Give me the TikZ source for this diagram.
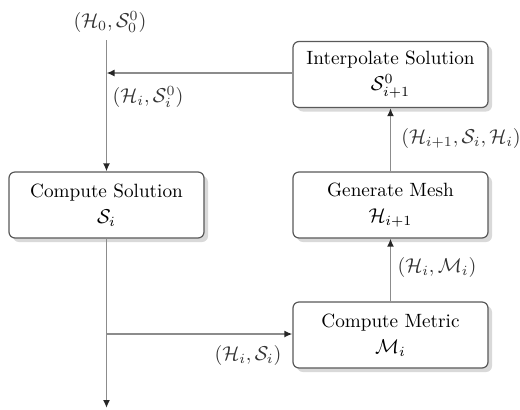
\documentclass[tikz,border=0pt]{standalone}
\usetikzlibrary{shadows,arrows.meta}
\begin{document}
\begin{tikzpicture}[x=0.5pt,y=-0.5pt,
  every node/.style={font=\fontsize{9.6}{13}\selectfont},
  procbox/.style={draw=black!65, line width=0.6pt, fill=white, rounded corners=3pt,
    minimum width=97.5pt, minimum height=33pt, align=center, inner sep=0pt,
    drop shadow={shadow xshift=2pt, shadow yshift=-2pt, fill=black!15, opacity=1}},
  flow/.style={draw=black!45, line width=0.8pt, -{Latex[length=4pt,width=3.5pt,black!85]}},
  plain/.style={draw=black!45, line width=0.8pt},
  lbl/.style={text=black!80, inner sep=0pt}]
\useasboundingbox (0,0) rectangle (520,409);

\node[procbox] (cs) at (106.5,205) {Compute Solution\\ $\mathcal{S}_i$};
\node[procbox] (cm) at (390.5,335) {Compute Metric\\ $\mathcal{M}_i$};
\node[procbox] (gm) at (390.5,205) {Generate Mesh\\ $\mathcal{H}_{i+1}$};
\node[procbox] (is) at (390.5,74.5) {Interpolate Solution\\ $\mathcal{S}^0_{i+1}$};

\coordinate (start) at (106.5,40);
\coordinate (join) at (106.5,73);
\coordinate (branch) at (106.5,334);
\coordinate (endp) at (106.5,408);

\draw[plain] (start) -- (join);
\draw[flow] (join) -- (cs.north);
\draw[flow] (is.west |- join) -- (join);
\draw[flow] (cs.south) -- (endp);
\draw[flow] (branch) -- (cm.west |- branch);
\draw[flow] (cm.north) -- (gm.south);
\draw[flow] (gm.north) -- (is.south);

\node[lbl] (l0) at (110,22) {$(\mathcal{H}_0,\mathcal{S}^0_0)$};
\node[lbl] (l1) at (148,97) {$(\mathcal{H}_i,\mathcal{S}^0_i)$};
\node[lbl] (l2) at (461,138) {$(\mathcal{H}_{i+1},\mathcal{S}_i,\mathcal{H}_i)$};
\node[lbl] (l3) at (437,267) {$(\mathcal{H}_i,\mathcal{M}_i)$};
\node[lbl] (l4) at (248,355) {$(\mathcal{H}_i,\mathcal{S}_i)$};
\end{tikzpicture}
\end{document}
